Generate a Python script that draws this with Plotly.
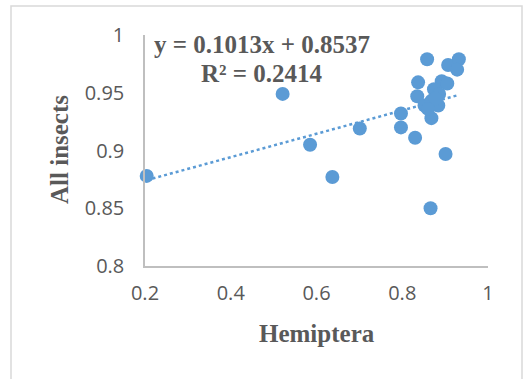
import plotly.graph_objects as go
import numpy as np

# Data
hemiptera = [0.204, 0.521, 0.585, 0.637, 0.701, 0.797, 0.797, 0.830, 0.901, 0.866,
             0.858, 0.907, 0.932, 0.928, 0.837, 0.892, 0.905, 0.874, 0.835, 0.886,
             0.852, 0.884, 0.868, 0.868, 0.878, 0.860]
all_insects = [0.878, 0.949, 0.905, 0.877, 0.919, 0.932, 0.920, 0.911, 0.897, 0.850,
               0.979, 0.974, 0.979, 0.970, 0.959, 0.960, 0.958, 0.953, 0.947, 0.949,
               0.939, 0.939, 0.943, 0.928, 0.945, 0.936]
slope = 0.1013
intercept = 0.8537
r_squared = 0.2414
x_ticks = [0.2, 0.4, 0.6, 0.8, 1]
y_ticks = [0.8, 0.85, 0.9, 0.95, 1]

blue = "#5B9BD5"
grey_text = "#595959"

trend_x = np.array([min(hemiptera), max(hemiptera)])
trend_y = slope * trend_x + intercept

fig = go.Figure()
fig.add_trace(go.Scatter(x=trend_x, y=trend_y, mode="lines",
                         line=dict(color=blue, width=2.5, dash="dot"),
                         hoverinfo="skip", showlegend=False))
fig.add_trace(go.Scatter(x=hemiptera, y=all_insects, mode="markers",
                         marker=dict(color=blue, size=14, line=dict(width=0)),
                         cliponaxis=False, showlegend=False))

L, R, T, B = 145, 37, 35, 113
W, H = 525, 379
pw, ph = W - L - R, H - T - B

def px(x):
    return (x - L) / pw

def py(y):
    return (H - B - y) / ph

fig.update_layout(
    width=W, height=H,
    margin=dict(l=L, r=R, t=T, b=B),
    paper_bgcolor="white", plot_bgcolor="white",
    xaxis=dict(range=[0.2, 1], tickvals=x_ticks, ticktext=[f"{v:g}" for v in x_ticks],
               showgrid=False, zeroline=False, showline=True, linecolor="#BFBFBF",
               linewidth=1.5, ticks="", ticklabelstandoff=8,
               tickfont=dict(family="Open Sans", size=20, color=grey_text)),
    yaxis=dict(range=[0.8, 1], tickvals=y_ticks, ticktext=[f"{v:g}" for v in y_ticks],
               showgrid=False, zeroline=False, showline=True, linecolor="#BFBFBF",
               linewidth=1.5, ticks="", ticklabelstandoff=15,
               tickfont=dict(family="Open Sans", size=20, color=grey_text)),
    shapes=[dict(type="rect", xref="paper", yref="paper",
                 x0=px(11), x1=px(522), y0=py(392), y1=py(6),
                 line=dict(color="#D9D9D9", width=1.5), fillcolor="rgba(0,0,0,0)",
                 layer="below")],
    annotations=[
        dict(text=f"y = {slope}x + {intercept}", xref="paper", yref="paper",
             x=px(262), y=py(45), showarrow=False, xanchor="center", yanchor="middle",
             font=dict(family="Liberation Serif", size=25, color=grey_text, weight="bold")),
        dict(text=f"R² = {r_squared}", xref="paper", yref="paper",
             x=px(262), y=py(73), showarrow=False, xanchor="center", yanchor="middle",
             font=dict(family="Liberation Serif", size=25, color=grey_text, weight="bold")),
        dict(text="Hemiptera", xref="paper", yref="paper",
             x=px(317), y=py(333), showarrow=False, xanchor="center", yanchor="middle",
             font=dict(family="Liberation Serif", size=25, color=grey_text, weight="bold")),
        dict(text="All insects", xref="paper", yref="paper", textangle=-90,
             x=px(59), y=py(149), showarrow=False, xanchor="center", yanchor="middle",
             font=dict(family="Liberation Serif", size=25, color=grey_text, weight="bold")),
    ],
)

fig.write_html("out.html")
